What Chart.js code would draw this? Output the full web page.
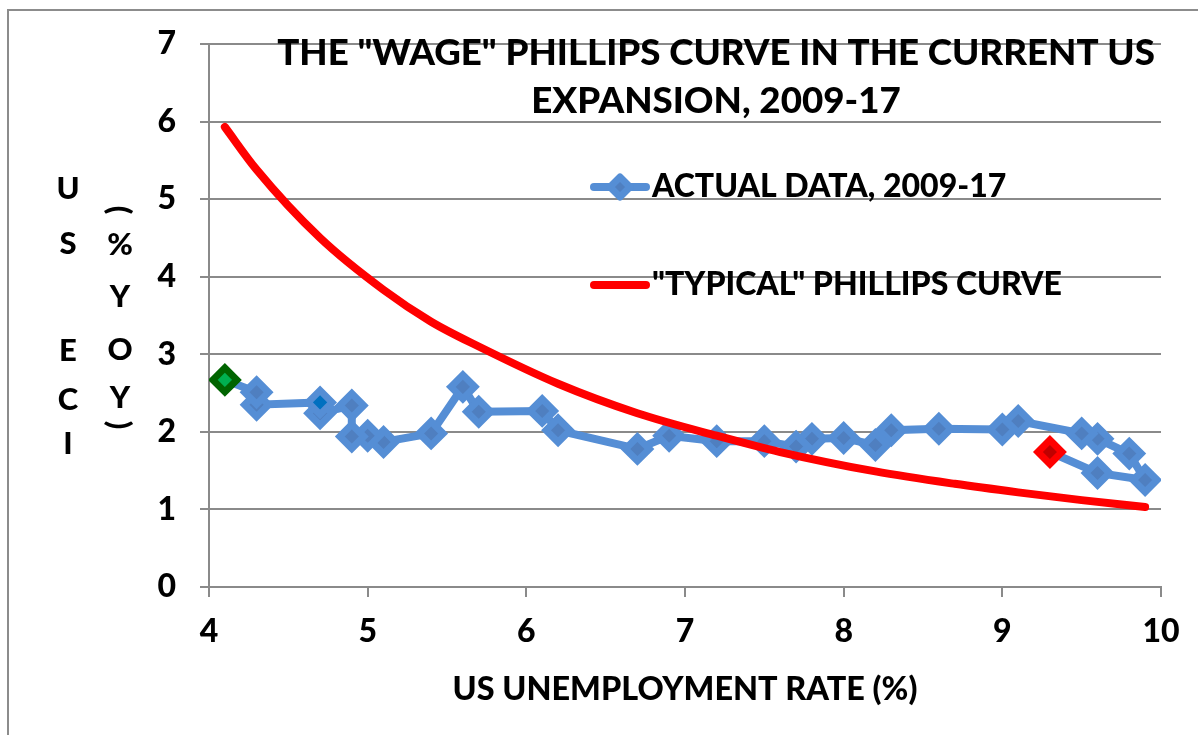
<!DOCTYPE html>
<html><head><meta charset="utf-8">
<script src="https://cdn.jsdelivr.net/npm/chart.js@4.4.1/dist/chart.umd.min.js"></script>
<style>html,body{margin:0;padding:0;background:#fff;overflow:hidden}</style>
</head><body>
<canvas id="c" width="1198" height="735"></canvas>
<script>
// ---- data ----
const unemployment = [9.3, 9.6, 9.9, 9.8, 9.6, 9.5, 9.1, 9.0, 8.6, 8.3, 8.2, 8.0, 7.8, 7.7, 7.5, 7.2, 6.9, 6.7, 6.2, 6.1, 5.7, 5.6, 5.4, 5.1, 5.0, 4.9, 4.9, 4.7, 4.7, 4.3, 4.3, 4.1];
const eciGrowth    = [1.74, 1.47, 1.38, 1.72, 1.91, 1.98, 2.14, 2.03, 2.04, 2.02, 1.83, 1.92, 1.91, 1.81, 1.88, 1.88, 1.95, 1.78, 2.02, 2.27, 2.26, 2.58, 1.98, 1.87, 1.95, 1.94, 2.34, 2.24, 2.38, 2.35, 2.51, 2.67];
const curveUnemployment = [4.1, 4.3, 4.7, 5.1, 5.4, 5.7, 6.2, 6.7, 7.2, 7.6, 8.2, 8.7, 9.1, 9.5, 9.9];
const curveWage         = [5.93, 5.38, 4.50, 3.83, 3.42, 3.10, 2.62, 2.24, 1.95, 1.74, 1.49, 1.33, 1.22, 1.12, 1.03];
const titleLines = ['THE "WAGE" PHILLIPS CURVE IN THE CURRENT US', 'EXPANSION, 2009-17'];
const seriesNames = ['ACTUAL DATA, 2009-17', '"TYPICAL" PHILLIPS CURVE'];
const xAxisTitle = 'US UNEMPLOYMENT RATE (%)';
const yTitleCol1 = ['U', 'S', 'E', 'C', 'I'];
const yTitleCol2 = ['(', '%', 'Y', 'O', 'Y', ')'];

const FONT = 'Lato, "Open Sans", sans-serif';
const W = '900';
const GRID = '#8a8a8a';
const BLUE = '#558ED5';

const actual = unemployment.map((u, i) => ({x: u, y: eciGrowth[i]}));
const typical = curveUnemployment.map((u, i) => ({x: u, y: curveWage[i]}));
const lastIdx = actual.length - 1;
const highlightIdx = 28;

function fitFont(ctx, text, width, weight) {
  const size = 40;
  ctx.font = weight + ' ' + size + 'px ' + FONT;
  const w = ctx.measureText(text).width;
  return size * width / w;
}

const decor = {
  id: 'decor',
  beforeDraw(chart) {
    const ctx = chart.ctx;
    ctx.save();
    ctx.strokeStyle = '#8c8c8c';
    ctx.lineWidth = 2;
    ctx.beginPath();
    ctx.moveTo(1198, 10); ctx.lineTo(8, 10); ctx.lineTo(8, 735);
    ctx.stroke();
    ctx.restore();
  },
  afterDraw(chart) {
    const ctx = chart.ctx;
    ctx.save();
    ctx.fillStyle = '#000';
    ctx.textAlign = 'center';
    ctx.textBaseline = 'middle';
    // title
    const ts = fitFont(ctx, titleLines[0], 878, W);
    ctx.font = W + ' ' + ts + 'px ' + FONT;
    ctx.fillText(titleLines[0], 716, 53);
    ctx.fillText(titleLines[1], 716, 101);
    // legend
    const ls = fitFont(ctx, seriesNames[1], 410, W);
    ctx.font = W + ' ' + ls + 'px ' + FONT;
    ctx.textAlign = 'left';
    const ly = [187, 285];
    ctx.fillText(seriesNames[0], 652, ly[0]);
    ctx.fillText(seriesNames[1], 652, ly[1]);
    ctx.lineCap = 'round';
    ctx.lineWidth = 8;
    ctx.strokeStyle = BLUE;
    ctx.beginPath(); ctx.moveTo(594, ly[0]); ctx.lineTo(646, ly[0]); ctx.stroke();
    ctx.strokeStyle = '#FF0000';
    ctx.beginPath(); ctx.moveTo(594, ly[1]); ctx.lineTo(646, ly[1]); ctx.stroke();
    // legend marker
    ctx.lineCap = 'butt';
    ctx.lineJoin = 'round';
    ctx.fillStyle = '#4F7FC0';
    ctx.strokeStyle = BLUE;
    ctx.lineWidth = 7;
    ctx.beginPath();
    const cx = 620, cy = ly[0], r = 10;
    ctx.moveTo(cx, cy - r); ctx.lineTo(cx + r, cy); ctx.lineTo(cx, cy + r); ctx.lineTo(cx - r, cy); ctx.closePath();
    ctx.fill(); ctx.stroke();
    // x axis title
    ctx.fillStyle = '#000';
    ctx.textAlign = 'center';
    const xs = fitFont(ctx, xAxisTitle, 465, W);
    ctx.font = W + ' ' + xs + 'px ' + FONT;
    ctx.fillText(xAxisTitle, 685, 690);
    // y axis title (stacked)
    ctx.font = W + ' 31px ' + FONT;
    const c1y = [189, 244, 351, 400, 444];
    yTitleCol1.forEach((ch, i) => ctx.fillText(ch, 68, c1y[i]));
    const c2y = [210, 245, 297, 350, 398, 425];
    yTitleCol2.forEach((ch, i) => {
      if (ch === '(' || ch === ')') {
        ctx.save();
        ctx.translate(119, c2y[i]);
        ctx.rotate(Math.PI / 2);
        ctx.fillText(ch, 0, 0);
        ctx.restore();
      } else {
        ctx.fillText(ch, 120, c2y[i]);
      }
    });
    ctx.restore();
  }
};

new Chart(document.getElementById('c'), {
  type: 'scatter',
  data: {
    datasets: [
      {
        label: seriesNames[0],
        data: actual,
        showLine: true,
        order: 1,
        borderColor: BLUE,
        borderWidth: 8,
        tension: 0,
        pointStyle: 'rectRot',
        pointRadius: 12,
        pointBorderWidth: 7,
        pointBackgroundColor: ctx => ctx.dataIndex === 0 ? '#C00000' : ctx.dataIndex === lastIdx ? '#00B050' : ctx.dataIndex === highlightIdx ? '#0070C0' : '#4F7FC0',
        pointBorderColor: ctx => ctx.dataIndex === 0 ? '#FF0000' : ctx.dataIndex === lastIdx ? '#006400' : BLUE
      },
      {
        label: seriesNames[1],
        data: typical,
        showLine: true,
        order: 0,
        borderColor: '#FF0000',
        borderWidth: 8,
        borderCapStyle: 'round',
        borderJoinStyle: 'round',
        cubicInterpolationMode: 'monotone',
        pointRadius: 0
      }
    ]
  },
  options: {
    responsive: false,
    animation: false,
    devicePixelRatio: 1,
    layout: {padding: {left: 0, top: 44, right: 37, bottom: 0}},
    plugins: {legend: {display: false}, tooltip: {enabled: false}},
    scales: {
      x: {
        type: 'linear', min: 4, max: 10,
        ticks: {stepSize: 1, color: '#000', padding: 15, font: {family: FONT, size: 32, weight: W}},
        grid: {drawOnChartArea: false, drawTicks: true, tickLength: 10, color: GRID, lineWidth: 2},
        border: {color: GRID, width: 2},
        afterFit(s) { s.height = 148; }
      },
      y: {
        min: 0, max: 7,
        ticks: {stepSize: 1, color: '#000', padding: 24, font: {family: FONT, size: 32, weight: W}},
        grid: {color: GRID, lineWidth: 2, tickLength: 9},
        border: {color: GRID, width: 2},
        afterFit(s) { s.width = 209; }
      }
    }
  },
  plugins: [decor]
});
</script>
</body></html>
